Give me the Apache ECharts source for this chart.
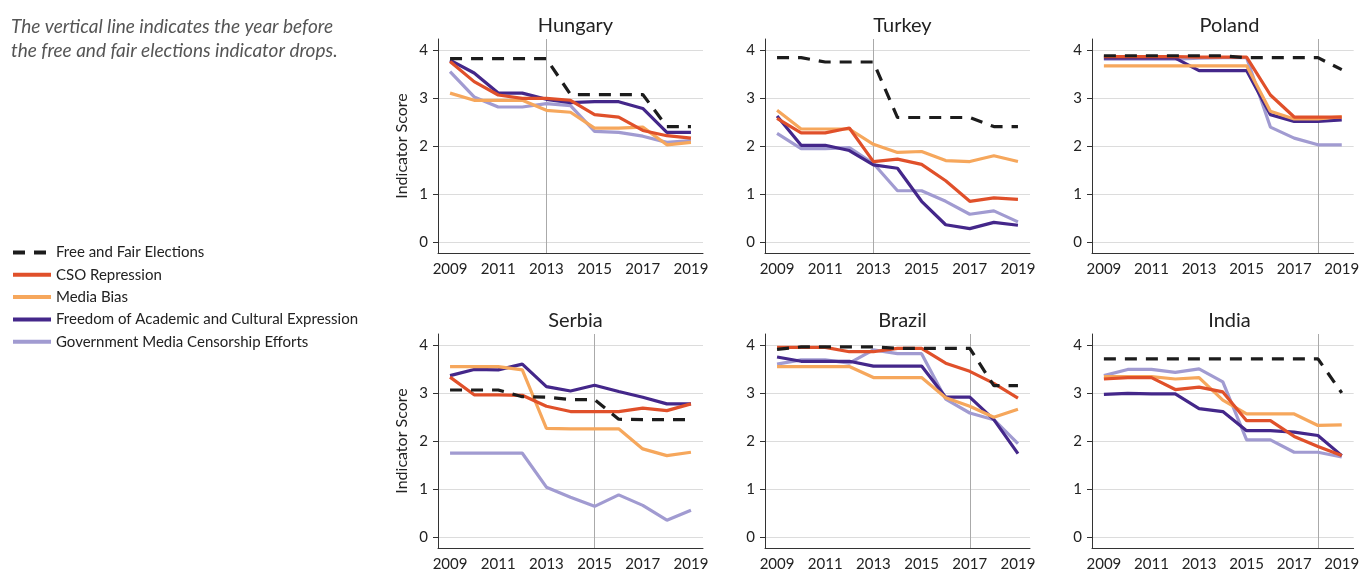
<!DOCTYPE html>
<html>
<head>
<meta charset="utf-8">
<script src="https://cdn.jsdelivr.net/npm/echarts@6/dist/echarts.min.js"></script>
<style>
  html, body { margin: 0; padding: 0; background: #fff; }
  #chart { width: 1362px; height: 574px; }
</style>
</head>
<body>
<div id="chart"></div>
<script>
// years on the x axis
const years = ['2009', '2010', '2011', '2012', '2013', '2014', '2015', '2016', '2017', '2018', '2019'];
const countries = ['Hungary', 'Turkey', 'Poland', 'Serbia', 'Brazil', 'India'];
// year before the elections indicator drops (grey vertical line)
const dropYears = ['2013', '2013', '2018', '2015', '2017', '2018'];
const indicators = [
  'Free and Fair Elections',
  'CSO Repression',
  'Media Bias',
  'Freedom of Academic and Cultural Expression',
  'Government Media Censorship Efforts'
];
const yTicks = [0, 1, 2, 3, 4];

// each country: rows in the order of indicators
const hungary = [
  [3.83, 3.83, 3.83, 3.83, 3.83, 3.08, 3.08, 3.08, 3.08, 2.41, 2.41],
  [3.77, 3.35, 3.07, 3.00, 3.00, 2.96, 2.66, 2.61, 2.33, 2.22, 2.17],
  [3.11, 2.96, 2.96, 2.96, 2.75, 2.71, 2.38, 2.38, 2.40, 2.03, 2.08],
  [3.80, 3.53, 3.11, 3.11, 2.98, 2.91, 2.93, 2.93, 2.79, 2.29, 2.29],
  [3.56, 3.03, 2.82, 2.82, 2.89, 2.85, 2.31, 2.29, 2.21, 2.08, 2.12]
];
const turkey = [
  [3.85, 3.85, 3.76, 3.76, 3.76, 2.60, 2.60, 2.60, 2.60, 2.41, 2.41],
  [2.58, 2.28, 2.28, 2.38, 1.68, 1.73, 1.62, 1.28, 0.85, 0.92, 0.89],
  [2.75, 2.36, 2.36, 2.36, 2.04, 1.87, 1.89, 1.70, 1.68, 1.80, 1.68],
  [2.63, 2.02, 2.02, 1.91, 1.61, 1.54, 0.85, 0.36, 0.28, 0.41, 0.35],
  [2.27, 1.95, 1.95, 1.97, 1.64, 1.07, 1.07, 0.85, 0.58, 0.65, 0.42]
];
const poland = [
  [3.89, 3.89, 3.89, 3.89, 3.89, 3.89, 3.85, 3.85, 3.85, 3.85, 3.60],
  [3.87, 3.87, 3.87, 3.87, 3.86, 3.86, 3.86, 3.07, 2.61, 2.61, 2.61],
  [3.68, 3.68, 3.68, 3.68, 3.68, 3.68, 3.68, 2.73, 2.57, 2.57, 2.62],
  [3.84, 3.84, 3.84, 3.84, 3.58, 3.58, 3.58, 2.66, 2.52, 2.52, 2.55],
  [3.82, 3.82, 3.82, 3.82, 3.84, 3.85, 3.85, 2.40, 2.17, 2.03, 2.03]
];
const serbia = [
  [3.07, 3.07, 3.07, 2.93, 2.92, 2.87, 2.87, 2.46, 2.45, 2.45, 2.45],
  [3.34, 2.97, 2.97, 2.96, 2.73, 2.62, 2.62, 2.62, 2.69, 2.64, 2.78],
  [3.56, 3.56, 3.56, 3.49, 2.27, 2.26, 2.26, 2.26, 1.84, 1.70, 1.77],
  [3.37, 3.50, 3.49, 3.61, 3.14, 3.05, 3.17, 3.04, 2.92, 2.78, 2.78],
  [1.75, 1.75, 1.75, 1.75, 1.04, 0.83, 0.64, 0.88, 0.66, 0.35, 0.56]
];
const brazil = [
  [3.92, 3.97, 3.97, 3.97, 3.97, 3.94, 3.94, 3.94, 3.94, 3.16, 3.16],
  [3.96, 3.96, 3.96, 3.87, 3.87, 3.94, 3.94, 3.63, 3.46, 3.21, 2.90],
  [3.56, 3.56, 3.56, 3.56, 3.33, 3.33, 3.33, 2.91, 2.73, 2.50, 2.67],
  [3.76, 3.67, 3.67, 3.67, 3.57, 3.57, 3.57, 2.92, 2.92, 2.45, 1.74],
  [3.61, 3.70, 3.70, 3.63, 3.91, 3.83, 3.83, 2.88, 2.59, 2.45, 1.95]
];
const india = [
  [3.72, 3.72, 3.72, 3.72, 3.72, 3.72, 3.72, 3.72, 3.72, 3.72, 3.01],
  [3.30, 3.33, 3.33, 3.08, 3.13, 3.03, 2.43, 2.43, 2.10, 1.89, 1.70],
  [3.35, 3.35, 3.35, 3.30, 3.33, 2.86, 2.57, 2.57, 2.57, 2.33, 2.34],
  [2.98, 3.00, 2.99, 2.99, 2.68, 2.62, 2.22, 2.22, 2.19, 2.12, 1.70],
  [3.37, 3.50, 3.50, 3.44, 3.51, 3.24, 2.03, 2.03, 1.77, 1.77, 1.67]
];
const countryData = [hungary, turkey, poland, serbia, brazil, india];

const colors = ['#1c1c1c', '#e0502a', '#f6a75c', '#44278a', '#a19bd1'];
const FONT = 'Lato';

const gridLefts = [438, 765, 1092];
const gridTops = [39, 334];
const gridW = 265, gridH = 214;

var grids = [], xAxes = [], yAxes = [], titles = [], series = [];

titles.push({
    text: 'The vertical line indicates the year before\nthe free and fair elections indicator drops.',
    left: 6,
    top: 10,
    textStyle: {
        fontFamily: FONT, fontStyle: 'italic', fontWeight: 'normal',
        fontSize: 19, lineHeight: 24, color: '#555'
    }
});

countries.forEach(function (name, i) {
    var col = i % 3, row = Math.floor(i / 3);
    var left = gridLefts[col], top = gridTops[row];
    grids.push({ left: left, top: top, width: gridW, height: gridH });
    titles.push({
        text: name,
        left: left + gridW / 2,
        top: top - 28,
        textAlign: 'center',
        textStyle: { fontFamily: FONT, fontSize: 20, fontWeight: 'normal', color: '#222' }
    });
    xAxes.push({
        type: 'category',
        gridIndex: i,
        data: years,
        boundaryGap: true,
        axisLine: { onZero: false, lineStyle: { color: '#333', width: 1 } },
        axisTick: { alignWithLabel: true, interval: 1, length: 5, lineStyle: { color: '#333' } },
        axisLabel: { interval: 1, margin: 9, fontFamily: FONT, fontSize: 15, color: '#222' },
        splitLine: { show: false }
    });
    yAxes.push({
        type: 'value',
        gridIndex: i,
        min: -0.23,
        max: 4.24,
        name: col === 0 ? 'Indicator Score' : '',
        nameLocation: 'middle',
        nameGap: 28,
        nameTextStyle: { fontFamily: FONT, fontSize: 16, color: '#222' },
        axisLine: { show: true, lineStyle: { color: '#333', width: 1 } },
        axisTick: { show: true, length: 5, customValues: yTicks, lineStyle: { color: '#333' } },
        axisLabel: { customValues: yTicks, margin: 10, fontFamily: FONT, fontSize: 15, color: '#222' },
        splitLine: { show: true, lineStyle: { color: '#dcdcdc', width: 1 } }
    });
    // draw order: censorship, academic, media, cso, elections on top
    [4, 3, 2, 1, 0].forEach(function (k) {
        var s = {
            name: indicators[k],
            type: 'line',
            xAxisIndex: i,
            yAxisIndex: i,
            data: countryData[i][k],
            symbol: 'none',
            color: colors[k],
            lineStyle: { color: colors[k], width: 3.2, type: k === 0 ? [12, 9] : 'solid' },
            z: 3
        };
        if (k === 4) {
            s.markLine = {
                silent: true,
                symbol: 'none',
                label: { show: false },
                lineStyle: { color: '#aaaaaa', width: 1, type: 'solid' },
                data: [{ xAxis: dropYears[i] }],
                z: 1
            };
        }
        series.push(s);
    });
});

var option = {
    animation: false,
    title: titles,
    grid: grids,
    xAxis: xAxes,
    yAxis: yAxes,
    legend: {
        data: indicators,
        orient: 'vertical',
        left: 6,
        top: 240,
        itemWidth: 38,
        itemHeight: 14,
        itemGap: 7.3,
        itemStyle: { opacity: 0 },
        lineStyle: { width: 4 },
        textStyle: { fontFamily: FONT, fontSize: 15, color: '#222', lineHeight: 14 }
    },
    series: series
};

var myChart = echarts.init(document.getElementById('chart'));
myChart.setOption(option);
</script>
</body>
</html>
